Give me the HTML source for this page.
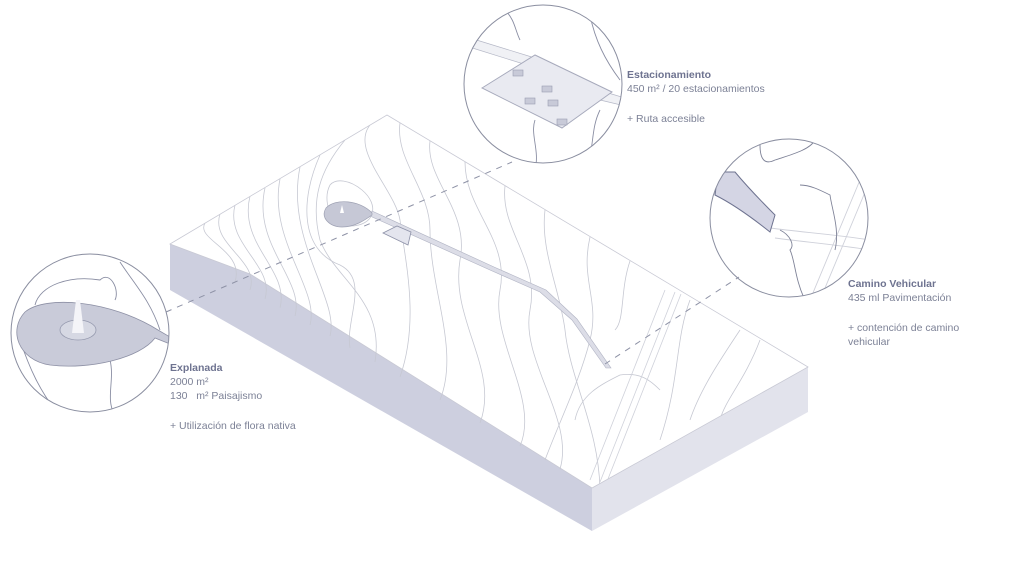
<!DOCTYPE html>
<html><head><meta charset="utf-8"><style>
html,body{margin:0;padding:0;background:#fff;}
svg{display:block}
text{font-family:"Liberation Sans",sans-serif;fill:#7c8196;font-size:10.5px}
.b{font-weight:bold;fill:#6e7390}
</style></head><body>
<svg width="1012" height="582" viewBox="0 0 1012 582" xmlns="http://www.w3.org/2000/svg">
<defs>
<clipPath id="top"><polygon points="170,244 387,115 808,367 592,488"/></clipPath>
<clipPath id="c1"><circle cx="90" cy="333" r="79"/></clipPath>
<clipPath id="c2"><circle cx="543" cy="84" r="79"/></clipPath>
<clipPath id="c3"><circle cx="789" cy="218" r="79"/></clipPath>
</defs>
<polygon points="170,244 250,274 592,488 592,531 170,290" fill="#cdcfdf"/>
<polygon points="592,488 808,367 808,412 592,531" fill="#e2e3ec"/>
<polygon points="170,244 387,115 808,367 592,488 250,274" fill="#fff" stroke="#c8c9d4" stroke-width="0.8"/>
<g clip-path="url(#top)" fill="none" stroke="#c6c8d2" stroke-width="0.8">
<path d="M330,185 C322,200 330,225 350,226 C375,226 380,205 362,190 C350,180 336,178 330,185Z"/>
<path d="M205,223 C195,240 245,250 235,282"/>
<path d="M220,214 C210,245 260,260 250,290"/>
<path d="M235,205 C225,245 275,265 265,299"/>
<path d="M250,196 C238,245 290,270 280,308"/>
<path d="M265,188 C252,245 305,280 295,316"/>
<path d="M280,179 C268,240 320,290 310,325"/>
<path d="M300,167 C285,240 340,300 330,336"/>
<path d="M320,155 C300,200 300,250 340,265 C370,280 345,320 350,348"/>
<path d="M345,140 C320,170 310,200 320,240 C335,280 385,300 375,362"/>
<path d="M370,125 C350,150 395,190 400,220 C405,260 420,320 400,377"/>
<path d="M400,123 C395,160 430,190 430,230 C430,290 460,350 440,400"/>
<path d="M430,141 C425,180 470,210 460,260 C450,320 500,370 480,423"/>
<path d="M465,162 C465,210 510,240 500,290 C490,340 540,400 520,446"/>
<path d="M505,186 C500,230 540,260 530,310 C520,360 575,420 560,469"/>
<path d="M545,210 C540,250 560,290 565,330 C570,380 600,430 600,493"/>
<path d="M590,237 C580,280 600,300 590,340 C580,380 560,420 545,460"/>
<path d="M630,261 C620,290 625,320 615,330"/>
<path d="M690,300 C675,340 680,380 660,440"/>
<path d="M740,330 C720,360 700,390 690,420 M760,340 C745,380 725,400 720,420"/>
<path d="M575,420 C580,395 600,385 620,375 C640,372 650,380 660,390"/>
</g>
<g clip-path="url(#top)" fill="none" stroke="#cfd1da" stroke-width="0.8">
<path d="M590,480 L665,290"/><path d="M600,482 L675,292"/><path d="M606,484 L681,294"/>
</g>
<path d="M370,216 L490,270 L540,292 L572,320 L606,368 L611,368 L577,319 L546,290 L494,267 L372,211Z" fill="#dcdde7" stroke="#b0b3c3" stroke-width="0.6"/>
<path d="M372,213 C360,200 335,198 326,208 C320,218 330,227 342,227 C355,227 365,220 372,215Z" fill="#c6c8d6" stroke="#9ea1b3" stroke-width="0.7"/>
<path d="M342,205 l2,8 l-4,0Z" fill="#fff"/>
<polygon points="383,233 397,226 411,232 408,245" fill="#e4e5ee" stroke="#8e92a8" stroke-width="0.8"/>
<g stroke="#8e92a6" stroke-width="1" stroke-dasharray="6,6" fill="none">
<line x1="166" y1="312" x2="512" y2="162"/>
<line x1="605" y1="364" x2="739" y2="277"/>
</g>
<g clip-path="url(#c1)">
<g fill="none" stroke="#8a8ea3" stroke-width="0.9">
<path d="M35,305 C40,285 70,275 100,280 C110,270 120,290 115,300"/>
<path d="M120,262 C135,285 150,300 160,330"/>
<path d="M20,340 C30,370 40,390 55,410"/>
<path d="M110,360 C115,380 105,400 115,415"/>
</g>
<path d="M158,330 L175,340 L175,346 L155,338 C140,358 90,370 50,365 C18,360 8,330 25,312 C45,295 110,300 158,330Z" fill="#c9cbd9" stroke="#8d90a5" stroke-width="0.8"/>
<ellipse cx="78" cy="330" rx="18" ry="10" fill="#d6d8e3" stroke="#9599ae" stroke-width="0.8"/>
<path d="M72,333 L76,300 L80,300 L84,333Z" fill="#f4f4f8"/>
</g>
<circle cx="90" cy="333" r="79" fill="none" stroke="#8a8ea0" stroke-width="1"/>
<g clip-path="url(#c2)">
<g fill="none" stroke="#8a8ea3" stroke-width="0.9">
<path d="M505,10 C515,20 515,30 520,40"/>
<path d="M590,15 C595,40 605,60 620,80"/>
<path d="M535,120 C530,135 540,150 535,170"/>
<path d="M600,110 C590,130 595,150 585,170"/>
</g>
<path d="M470,38 L535,58 L530,66 L466,46Z" fill="#f0f1f5" stroke="#b4b7c6" stroke-width="0.7"/>
<path d="M605,92 L625,98 L625,106 L600,100Z" fill="#f0f1f5" stroke="#b4b7c6" stroke-width="0.7"/>
<polygon points="482,88 535,55 612,92 562,128" fill="#e9eaf1" stroke="#a7aabc" stroke-width="1"/>
<g fill="#c8cad8" stroke="#9a9db1" stroke-width="0.6">
<rect x="513" y="70" width="10" height="6"/><rect x="542" y="86" width="10" height="6"/>
<rect x="525" y="98" width="10" height="6"/><rect x="548" y="100" width="10" height="6"/>
<rect x="557" y="119" width="10" height="6"/>
</g>
</g>
<circle cx="543" cy="84" r="79" fill="none" stroke="#8a8ea0" stroke-width="1"/>
<g clip-path="url(#c3)">
<g fill="none" stroke="#cfd1da" stroke-width="0.9">
<path d="M810,300 L860,180"/><path d="M820,300 L868,185"/>
<path d="M770,228 C800,232 840,235 870,240"/><path d="M775,238 C805,242 840,245 870,250"/>
</g>
<g fill="none" stroke="#7f8398" stroke-width="0.9">
<path d="M760,145 C760,160 765,165 775,160 C790,155 810,150 815,140"/>
<path d="M805,300 C795,280 795,260 790,250 C795,245 790,235 780,230"/>
<path d="M835,250 C840,230 832,210 830,195 C820,190 810,185 800,185"/>
</g>
<path d="M718,172 L735,172 C750,190 765,205 775,215 L770,232 C755,220 735,205 715,195Z" fill="#d4d5e4" stroke="#6e7390" stroke-width="1"/>
</g>
<circle cx="789" cy="218" r="79" fill="none" stroke="#8a8ea0" stroke-width="1"/>
<text x="170" y="371" class="b">Explanada</text>
<text x="170" y="385">2000 m²</text>
<text x="170" y="399">130 &#160; m² Paisajismo</text>
<text x="170" y="429">+ Utilización de flora nativa</text>
<text x="627" y="78" class="b">Estacionamiento</text>
<text x="627" y="92">450 m² / 20 estacionamientos</text>
<text x="627" y="122">+ Ruta accesible</text>
<text x="848" y="287" class="b">Camino Vehicular</text>
<text x="848" y="301">435 ml Pavimentación</text>
<text x="848" y="331">+ contención de camino</text>
<text x="848" y="345">vehicular</text>
</svg>
</body></html>
